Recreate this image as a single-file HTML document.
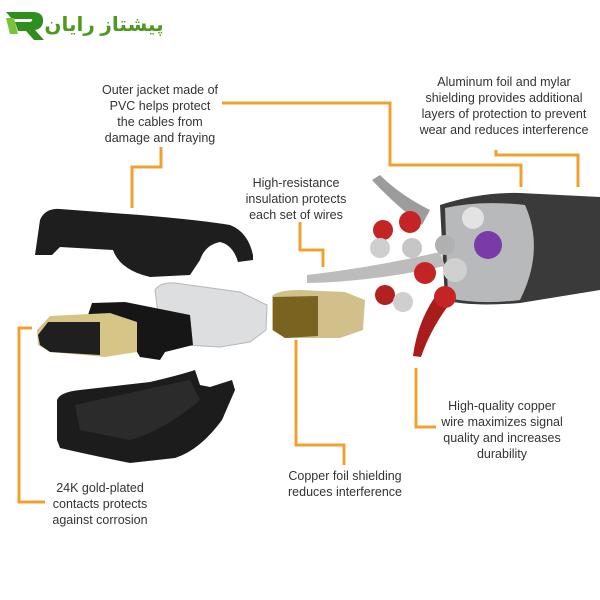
<!DOCTYPE html>
<html><head><meta charset="utf-8"><style>
html,body{margin:0;padding:0;background:#fff}
svg{display:block}
text{font-family:"Liberation Sans",sans-serif;font-size:12.5px;fill:#333;text-anchor:middle}
</style></head><body>
<svg width="600" height="600" viewBox="0 0 600 600">
<!-- logo -->
<path d="M6 12 L34 12 Q44 13 43 22 Q42 29 35 30 L44 40 L34 40 L26 31 L18 31 L15 22 L30 22 Q33 21 32 19 L12 19 Z" fill="#2f8f1e"/>
<path d="M6 18 L14 18 L18 34 L10 34 Z" fill="#7ac23a"/>
<text x="104" y="31" style="font-family:'Liberation Sans','DejaVu Sans',sans-serif;font-size:20px;font-weight:bold;fill:#4d9a1e">پیشتاز رایان</text>
<!-- orange connectors -->
<g fill="none" stroke="#f0a030" stroke-width="3">
<polyline points="222,103 390,103 390,165 521,165 521,187"/>
<polyline points="496,150 496,155 578,155 578,187"/>
<polyline points="161,147 161,167 132,167 132,208"/>
<polyline points="300,222 300,250 323,250 323,267"/>
<polyline points="32,328 19,328 19,502 45,502"/>
<polyline points="296,340 296,445 344,445 344,465"/>
<polyline points="416,368 416,427 436,427"/>
</g>
<!-- top cap -->
<path d="M35,255 L40,220 Q45,208 60,209 L140,215 Q200,220 230,225 Q248,232 253,255 L253,260 L238,262 Q233,245 220,242 Q205,245 200,260 L190,275 L150,277 Q120,270 113,250 L60,247 L52,255 Z" fill="#1e1e1e"/>
<!-- bottom cap -->
<path d="M57,400 Q60,392 80,390 L150,382 Q180,375 195,370 L200,385 L210,387 L232,380 L235,390 L222,420 Q200,450 175,458 L130,463 Q90,455 60,448 L57,440 Z" fill="#1c1c1c"/>
<path d="M75,405 L120,395 L190,380 L200,400 Q165,430 130,440 L80,430 Z" fill="#2b2b2b"/>
<!-- clear housing -->
<path d="M155,290 Q160,282 175,283 L240,292 L267,305 L266,330 L250,342 L220,347 L185,345 L160,330 Z" fill="#dcdedf" stroke="#b5b7b9" stroke-width="1"/>
<!-- black middle -->
<path d="M88,315 L92,303 L125,302 L190,315 L193,345 L165,352 L160,360 L140,357 L130,340 Z" fill="#161616"/>
<!-- gold plug -->
<path d="M37,330 L50,316 L110,313 L137,322 L137,352 L105,357 L50,352 L38,345 Z" fill="#d6c587"/>
<path d="M38,335 L48,322 L100,322 L100,355 L50,352 L40,345 Z" fill="#1f1f1f"/>
<!-- gold shield -->
<path d="M272,296 Q278,290 300,290 L345,292 L365,300 L363,330 L340,338 L285,338 L272,330 Z" fill="#d2c08a"/>
<path d="M273,297 L318,296 L318,336 L285,338 L273,330 Z" fill="#7a6220"/>
<!-- cable body -->
<path d="M440,205 Q480,192 520,193 L600,197 L600,290 L520,303 Q470,307 445,300 Z" fill="#3a3a3a"/>
<path d="M445,208 Q480,200 525,205 Q545,250 520,300 Q480,305 448,298 Z" fill="#b8b9bb"/>
<!-- wires -->
<path d="M372,180 L380,175 Q400,195 430,210 L422,225 Q395,205 372,180 Z" fill="#9c9c9c"/>
<path d="M307,275 Q370,268 440,252 L445,266 Q370,282 307,283 Z" fill="#bcbcbc"/>
<path d="M413,356 Q418,318 440,290 L455,297 Q432,325 421,357 Z" fill="#a81c1c"/>
<g>
<circle cx="383" cy="230" r="10" fill="#c52424"/>
<circle cx="410" cy="222" r="11" fill="#c52424"/>
<circle cx="473" cy="218" r="11" fill="#e3e3e3"/>
<circle cx="380" cy="248" r="10" fill="#cfcfcf"/>
<circle cx="412" cy="248" r="10" fill="#c6c6c6"/>
<circle cx="445" cy="245" r="10" fill="#b0b0b0"/>
<circle cx="488" cy="245" r="14" fill="#7a3aa8"/>
<circle cx="425" cy="273" r="11" fill="#c52424"/>
<circle cx="455" cy="270" r="12" fill="#d0d0d0"/>
<circle cx="385" cy="295" r="10" fill="#b22020"/>
<circle cx="403" cy="302" r="10" fill="#cfcfcf"/>
<circle cx="445" cy="297" r="11" fill="#c52424"/>
</g>
<!-- labels -->
<text x="160" y="94">Outer jacket made of</text>
<text x="160" y="110">PVC helps protect</text>
<text x="160" y="126">the cables from</text>
<text x="160" y="142">damage and fraying</text>
<text x="504" y="86">Aluminum foil and mylar</text>
<text x="504" y="102">shielding provides additional</text>
<text x="504" y="118">layers of protection to prevent</text>
<text x="504" y="134">wear and reduces interference</text>
<text x="296" y="187">High-resistance</text>
<text x="296" y="203">insulation protects</text>
<text x="296" y="219">each set of wires</text>
<text x="502" y="410">High-quality copper</text>
<text x="502" y="426">wire maximizes signal</text>
<text x="502" y="442">quality and increases</text>
<text x="502" y="458">durability</text>
<text x="345" y="480">Copper foil shielding</text>
<text x="345" y="496">reduces interference</text>
<text x="100" y="492">24K gold-plated</text>
<text x="100" y="508">contacts protects</text>
<text x="100" y="524">against corrosion</text>
</svg>
</body></html>
